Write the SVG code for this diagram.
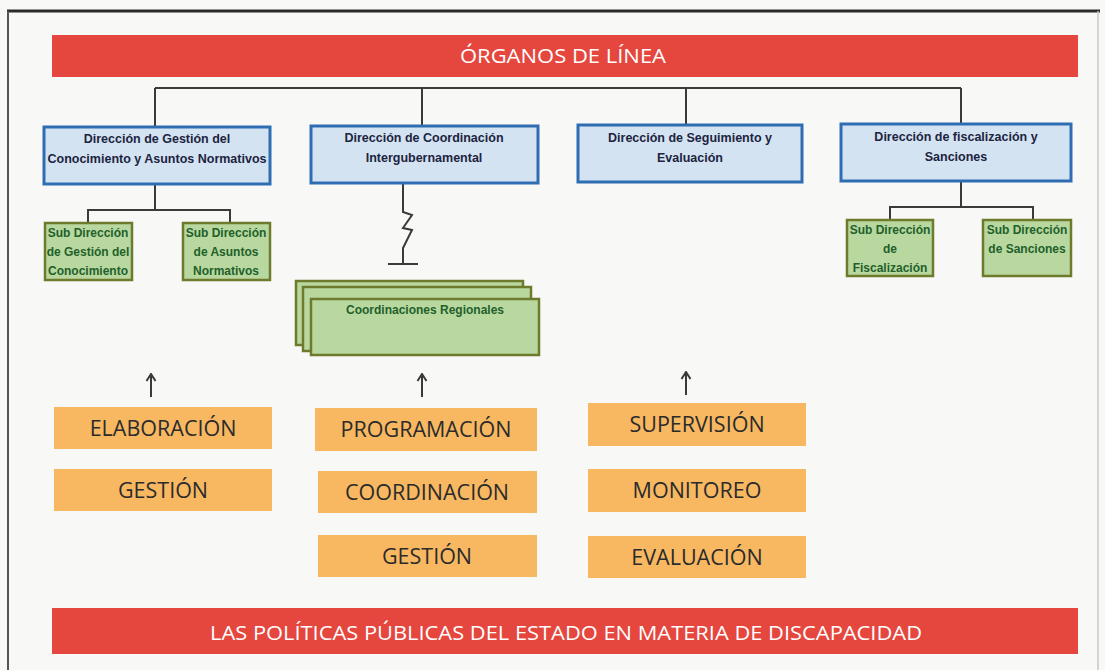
<svg xmlns="http://www.w3.org/2000/svg" width="1105" height="670" viewBox="0 0 1105 670">
<defs>
<style>
.bar{fill:#e5463d}
.bartxt{font-family:"Open Sans","Liberation Sans",sans-serif;font-size:20px;fill:#ffffff;text-anchor:middle}
.dir rect{fill:#d4e3f2;stroke:#2f6db3;stroke-width:3}
.dir text{font-family:"Liberation Sans",Arial,sans-serif;font-weight:bold;font-size:12.5px;fill:#1c2440;text-anchor:middle}
.sub rect{fill:#b8d8a0;stroke:#6e7a2c;stroke-width:2.5}
.sub text{font-family:"Liberation Sans",Arial,sans-serif;font-weight:bold;font-size:12px;fill:#22602a;text-anchor:middle}
.crtxt{font-size:13px}
.act rect{fill:#f8b862}
.act text{font-family:"Open Sans","Liberation Sans",sans-serif;font-size:21.5px;fill:#2b2b2b;text-anchor:middle}
.ln{fill:none;stroke:#3a3a3a;stroke-width:2}
</style>
<marker id="ah" viewBox="0 0 10 10" refX="9" refY="5" markerWidth="10" markerHeight="12" markerUnits="userSpaceOnUse" orient="auto">
<path d="M2,0.5 L9,5 L2,9.5" fill="none" stroke="#3a3a3a" stroke-width="2"/>
</marker>
</defs>
<rect x="0" y="0" width="1105" height="670" fill="#f8f8f6"/>
<line x1="7" y1="11" x2="1100" y2="11" stroke="#2a2a2a" stroke-width="3"/>
<line x1="8" y1="11" x2="8" y2="670" stroke="#555" stroke-width="2"/>
<line x1="1098" y1="11" x2="1098" y2="670" stroke="#c8c8c8" stroke-width="1.5"/>

<g id="organos-de-linea">
<rect class="bar" x="52" y="35" width="1026" height="42"/>
<text class="bartxt" x="563" y="63" textLength="206" lengthAdjust="spacingAndGlyphs">ÓRGANOS DE LÍNEA</text>
</g>

<g id="connectors">
<path class="ln" d="M155,88 H961 M155,88 V126 M422,88 V126 M686,88 V125 M961,88 V124"/>
<path class="ln" d="M155,185 V210 M88,223 V210 H230 V223"/>
<path class="ln" d="M961,182 V207 M890,220 V207 H1033 V220"/>
<path class="ln" d="M403,183 V212 L412,215 L403,228 L412,230 L403,248 V264 M388,264 H418"/>
<line class="ln" x1="151" y1="397" x2="151" y2="374" marker-end="url(#ah)"/>
<line class="ln" x1="422" y1="397" x2="422" y2="374" marker-end="url(#ah)"/>
<line class="ln" x1="686" y1="395" x2="686" y2="372" marker-end="url(#ah)"/>
</g>

<g id="dir-gestion-conocimiento" class="dir">
<rect x="44" y="127" width="226" height="57"/>
<text x="157" y="143">Dirección de Gestión del</text>
<text x="157" y="163">Conocimiento y Asuntos Normativos</text>
</g>
<g id="dir-coordinacion" class="dir">
<rect x="311" y="126" width="227" height="57"/>
<text x="424" y="142">Dirección de Coordinación</text>
<text x="424" y="162">Intergubernamental</text>
</g>
<g id="dir-seguimiento" class="dir">
<rect x="578" y="125" width="224" height="57"/>
<text x="690" y="142">Dirección de Seguimiento y</text>
<text x="690" y="162">Evaluación</text>
</g>
<g id="dir-fiscalizacion" class="dir">
<rect x="841" y="124" width="230" height="57"/>
<text x="956" y="141">Dirección de fiscalización y</text>
<text x="956" y="161">Sanciones</text>
</g>

<g id="sub-gestion-conocimiento" class="sub">
<rect x="45" y="223" width="87" height="57"/>
<text x="88" y="237">Sub Dirección</text>
<text x="88" y="256">de Gestión del</text>
<text x="88" y="275">Conocimiento</text>
</g>
<g id="sub-asuntos-normativos" class="sub">
<rect x="183" y="223" width="87" height="57"/>
<text x="226" y="237">Sub Dirección</text>
<text x="226" y="256">de Asuntos</text>
<text x="226" y="275">Normativos</text>
</g>
<g id="sub-fiscalizacion" class="sub">
<rect x="847" y="220" width="86" height="56"/>
<text x="890" y="234">Sub Dirección</text>
<text x="890" y="253">de</text>
<text x="890" y="272">Fiscalización</text>
</g>
<g id="sub-sanciones" class="sub">
<rect x="983" y="220" width="88" height="56"/>
<text x="1027" y="234">Sub Dirección</text>
<text x="1027" y="253">de Sanciones</text>
</g>

<g id="coordinaciones-regionales" class="sub">
<rect x="296" y="281" width="227" height="64"/>
<rect x="303" y="287" width="228" height="64"/>
<rect x="311" y="299" width="228" height="56"/>
<text class="crtxt" x="425" y="314">Coordinaciones Regionales</text>
</g>

<g id="elaboracion" class="act"><rect x="54" y="407" width="218" height="42"/><text x="163" y="436">ELABORACIÓN</text></g>
<g id="gestion-1" class="act"><rect x="54" y="469" width="218" height="42"/><text x="163" y="498">GESTIÓN</text></g>
<g id="programacion" class="act"><rect x="315" y="408" width="222" height="43"/><text x="426" y="437">PROGRAMACIÓN</text></g>
<g id="coordinacion" class="act"><rect x="318" y="471" width="219" height="42"/><text x="427" y="500">COORDINACIÓN</text></g>
<g id="gestion-2" class="act"><rect x="318" y="535" width="219" height="42"/><text x="427" y="564">GESTIÓN</text></g>
<g id="supervision" class="act"><rect x="588" y="403" width="218" height="43"/><text x="697" y="432">SUPERVISIÓN</text></g>
<g id="monitoreo" class="act"><rect x="588" y="469" width="218" height="43"/><text x="697" y="498">MONITOREO</text></g>
<g id="evaluacion" class="act"><rect x="588" y="536" width="218" height="42"/><text x="697" y="565">EVALUACIÓN</text></g>

<g id="politicas-publicas">
<rect class="bar" x="52" y="608" width="1026" height="46"/>
<text class="bartxt" x="566" y="640" textLength="712" lengthAdjust="spacingAndGlyphs">LAS POLÍTICAS PÚBLICAS DEL ESTADO EN MATERIA DE DISCAPACIDAD</text>
</g>
</svg>
